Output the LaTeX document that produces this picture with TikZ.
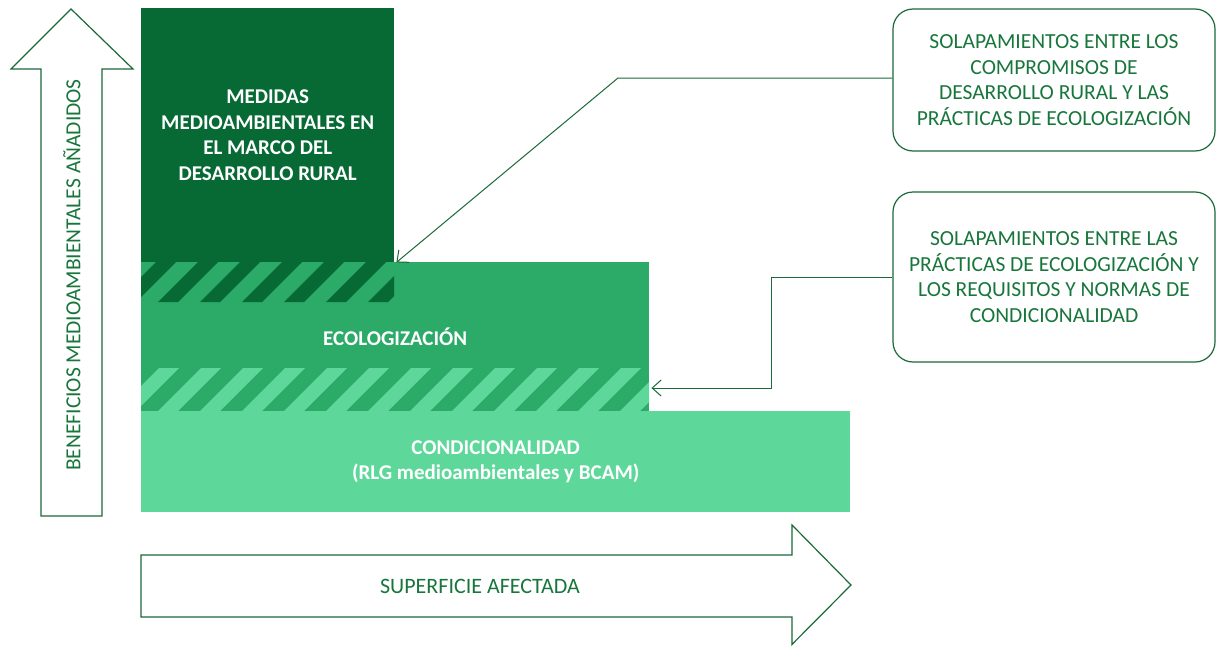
\documentclass[tikz,border=0pt]{standalone}
\usepackage{fontspec}
\setmainfont{Carlito}
\usepackage{xcolor}
\definecolor{ruralgreen}{RGB}{7,106,53}
\definecolor{ecogreen}{RGB}{44,170,104}
\definecolor{condgreen}{RGB}{94,216,154}
\definecolor{textgreen}{RGB}{24,118,60}
\definecolor{linegreen}{RGB}{26,105,56}
\usetikzlibrary{arrows.meta}

\tikzset{
    block/.style={anchor=north west, inner sep=0pt, align=center, text=white,
        font=\fontsize{21}{25.5}\selectfont\bfseries},
    callout/.style={draw=linegreen, line width=1.2pt, rounded corners=20pt,
        minimum width=322pt, align=center, text=textgreen,
        font=\fontsize{21.5}{25.5}\selectfont},
    bigarrow/.style={draw=linegreen, line width=1.2pt, fill=white},
    link/.style={draw=linegreen, line width=1pt, -{Straight Barb[length=9pt,width=16pt]}}
}

\begin{document}
\begin{tikzpicture}[x=1pt, y=-1pt]
                \useasboundingbox (0,0) rectangle (1217,645);
                % bloques
                \node [block, fill=condgreen, minimum width=709pt, minimum height=101pt] (condic) at (141,411)
                    {CONDICIONALIDAD\\(RLG medioambientales y BCAM)};
                \node [block, fill=ecogreen, minimum width=508pt, minimum height=149pt] (ecolog) at (141,262)
                    {ECOLOGIZACIÓN};
                \node [block, fill=ruralgreen, minimum width=253pt, minimum height=254pt] (rural) at (141,8)
                    {MEDIDAS\\MEDIOAMBIENTALES EN\\EL MARCO DEL\\DESARROLLO RURAL};
                % solapamientos rayados
                \begin{scope}
                    \clip (141,262) -- (394,262) [rounded corners=3pt] -- (394,302) [sharp corners] -- (141,302) -- cycle;
                    \foreach \x in {74,116,...,420}
                        \fill [ruralgreen] (\x,302) -- ++(20,0) -- ++(40,-40) -- ++(-20,0) -- cycle;
                \end{scope}
                \begin{scope}
                    \clip (141,368) rectangle (649,411);
                    \foreach \x in {74,116,...,680}
                        \fill [condgreen] (\x,411) -- ++(20,0) -- ++(43,-43) -- ++(-20,0) -- cycle;
                \end{scope}
                % ejes
                \draw [bigarrow] (41,516) -- (41,69) -- (11,69) -- (71,9) -- (133,69) -- (102,69) -- (102,516) -- cycle;
                \node [rotate=90, text=textgreen, font=\fontsize{21.5}{25}\selectfont] (beneficios) at (72,275)
                    {BENEFICIOS MEDIOAMBIENTALES AÑADIDOS};
                \draw [bigarrow] (141,555) -- (792,555) -- (792,525) -- (851,585) -- (792,644.4) -- (792,617) -- (141,617) -- cycle;
                \node [text=textgreen, font=\fontsize{22}{25}\selectfont] (superficie) at (480,586)
                    {SUPERFICIE AFECTADA};
                % notas
                \node [callout, minimum height=142pt] (rdbox) at (1054,80)
                    {SOLAPAMIENTOS ENTRE LOS\\COMPROMISOS DE\\DESARROLLO RURAL Y LAS\\PRÁCTICAS DE ECOLOGIZACIÓN};
                \node [callout, minimum height=170pt] (ncbox) at (1054,277)
                    {SOLAPAMIENTOS ENTRE LAS\\PRÁCTICAS DE ECOLOGIZACIÓN Y\\LOS REQUISITOS Y NORMAS DE\\CONDICIONALIDAD};
                \coordinate (bend1) at (618,78);
                \coordinate (bend2) at (771,388);
                \draw [link] (rdbox.west |- bend1) -- (bend1) -- ([xshift=2pt]rural.south east);
                \draw [link] (ncbox.west) -| (bend2) -- ([xshift=2pt]ecolog.east |- bend2);
            \end{tikzpicture}
\end{document}
